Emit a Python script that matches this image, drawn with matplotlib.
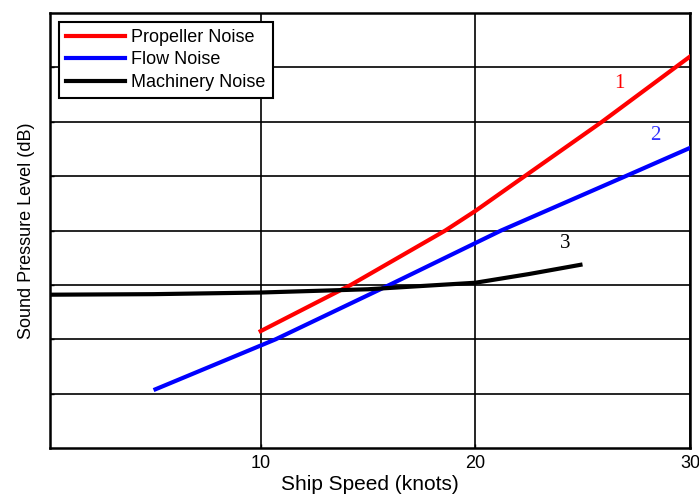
from matplotlib import pyplot as plt
import numpy as np

# values (y is an arbitrary dB scale, 8 grid steps)
prop_speed = [10, 14.2, 18.6, 20, 22.3, 25.9, 30]
prop_level = [21.5, 30, 40, 43.6, 50, 60, 72]
flow_speed = [5.1, 10.7, 16.0, 21.2, 27.0, 30]
flow_level = [10.8, 20, 30, 40, 50, 55.2]
mach_speed = [0.2, 5, 10, 15, 20, 22.5, 24.9]
mach_level = [28.2, 28.3, 28.6, 29.2, 30.4, 32.0, 33.7]
names = ["Propeller Noise", "Flow Noise", "Machinery Noise"]
curve_ids = ["1", "2", "3"]

plt.rcParams['font.family'] = ['Liberation Sans', 'DejaVu Sans']

fig = plt.figure(figsize=(6.99, 4.97), dpi=100)
ax = fig.add_axes([0.072, 0.0986, 0.915, 0.875])

ax.plot(prop_speed, prop_level, color='#ff0000', lw=3, label=names[0], zorder=3)
ax.plot(flow_speed, flow_level, color='#0000ff', lw=3, label=names[1], zorder=3)
ax.plot(mach_speed, mach_level, color='black', lw=3, label=names[2], zorder=3)

ax.text(26.7, 67.1, curve_ids[0], color='#ff0000', fontsize=15,
        family='Liberation Serif', ha='center', va='center')
ax.text(28.4, 57.5, curve_ids[1], color='#3333ff', fontsize=15,
        family='Liberation Serif', ha='center', va='center')
ax.text(24.2, 37.6, curve_ids[2], color='black', fontsize=15,
        family='Liberation Serif', ha='center', va='center')

ax.set_xlim(0.2, 30)
ax.set_ylim(0, 80)
ax.set_xticks([10, 20, 30])
ax.set_yticks(np.arange(10, 80, 10))
ax.set_yticklabels([])
ax.tick_params(direction='in', length=3, width=1, labelsize=13, pad=5)
ax.grid(True, color='black', lw=1.2)
for s in ax.spines.values():
    s.set_linewidth(1.8)
    s.set_color('black')

ax.set_xlabel("Ship Speed (knots)", fontsize=15, labelpad=2)
ax.set_ylabel("Sound Pressure Level (dB)", fontsize=13, labelpad=6)

leg = ax.legend(loc='upper left', bbox_to_anchor=(0.013, 0.98), borderaxespad=0,
                fontsize=13, handlelength=3.3, handletextpad=0.33,
                labelspacing=0.3, borderpad=0.4, fancybox=False, framealpha=1)
leg.get_frame().set_edgecolor('black')
leg.get_frame().set_linewidth(1.5)

plt.savefig("out.png", dpi=100)
